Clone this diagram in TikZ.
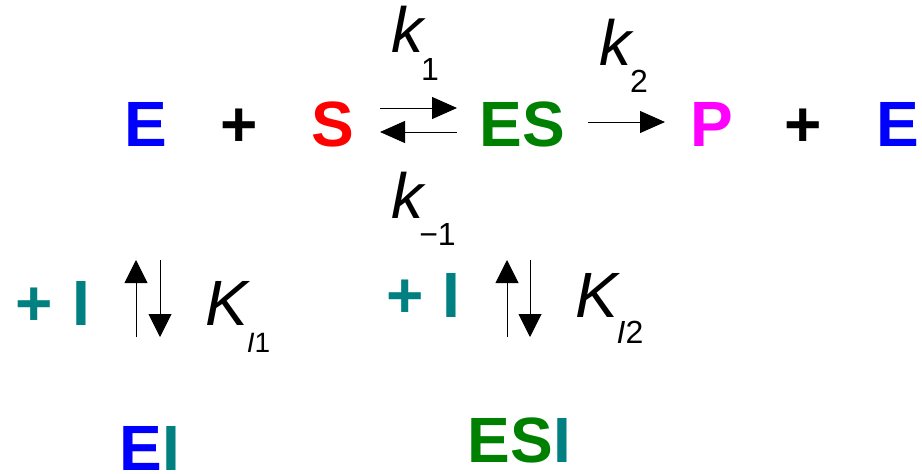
\documentclass[tikz,border=0pt]{standalone}
\usepackage{fontspec}
\setmainfont{Liberation Sans}
\usetikzlibrary{arrows.meta}
\definecolor{cE}{rgb}{0,0,1}
\definecolor{cS}{rgb}{1,0,0}
\definecolor{cES}{rgb}{0,0.5,0}
\definecolor{cP}{rgb}{1,0,1}
\definecolor{cI}{rgb}{0,0.5,0.5}
\begin{document}
\begin{tikzpicture}[x=1pt,y=-1pt,
  big/.style={inner sep=0pt,anchor=base,font=\fontsize{64}{70}\selectfont\bfseries},
  kbig/.style={inner sep=0pt,anchor=base,font=\fontsize{64}{70}\selectfont\itshape},
  ksub/.style={inner sep=0pt,anchor=base,font=\fontsize{32}{36}\selectfont},
  rxn/.style={line width=1pt,-{Triangle[length=25pt,width=22pt]}},
  vrx/.style={line width=1pt,-{Triangle[length=23pt,width=23pt]}}]
\useasboundingbox (0,0) rectangle (922,474);
% top row
\node[big,text=cE] (E1) at (145.5,146) {E};
\node[big] (p1) at (239,146) {+};
\node[big,text=cS] (S) at (333,146) {S};
\node[big,text=cES] (ES) at (522.5,146) {ES};
\node[big,text=cP] (P) at (711.5,146) {P};
\node[big] (p2) at (803.5,146) {+};
\node[big,text=cE] (E2) at (897.5,146) {E};
% rate constants
\node[kbig] (k1) at (407.5,52) {k};
\node[ksub] (k1s) at (430,80) {1};
\node[kbig] (k2) at (615,65) {k};
\node[ksub] (k2s) at (639,92) {2};
\node[kbig] (km1) at (407,218) {k};
\node[ksub] (km1s) at (437.5,245) {−1};
% reaction arrows
\coordinate (f1) at (380,108);
\coordinate (f2) at (457,108);
\coordinate (b1) at (457,132);
\coordinate (b2) at (380,132);
\coordinate (c1) at (588,122);
\coordinate (c2) at (665,122);
\draw[rxn] (f1) -- (f2);
\draw[rxn] (b1) -- (b2);
\draw[rxn] (c1) -- (c2);
% inhibitor, left
\node[big,text=cI] (pi1) at (34.5,325) {+};
\node[big,text=cI] (I1) at (81,325) {I};
\coordinate (u1a) at (136,337);
\coordinate (u1b) at (136,260);
\coordinate (d1a) at (160,260);
\coordinate (d1b) at (160,337);
\draw[vrx] (u1a) -- (u1b);
\draw[vrx] (d1a) -- (d1b);
\node[kbig] (K1) at (226.5,325) {K};
\node[inner sep=0pt,anchor=base,font=\fontsize{28}{32}\selectfont] (K1s) at (258.5,352) {\textit{I}1};
\node[big,text=cE] (EI) at (150,470) {E\textcolor{cI}{I}};
% inhibitor, right
\node[big,text=cI] (pi2) at (405.5,317) {+};
\node[big,text=cI] (I2) at (451,317) {I};
\coordinate (u2a) at (507,337);
\coordinate (u2b) at (507,260);
\coordinate (d2a) at (530,260);
\coordinate (d2b) at (530,337);
\draw[vrx] (u2a) -- (u2b);
\draw[vrx] (d2a) -- (d2b);
\node[kbig] (K2) at (596.5,317) {K};
\node[ksub] (K2s) at (630,343) {\textit{I}2};
\node[big,text=cES] (ESI) at (519.5,462) {ES\textcolor{cI}{I}};
\end{tikzpicture}
\end{document}
